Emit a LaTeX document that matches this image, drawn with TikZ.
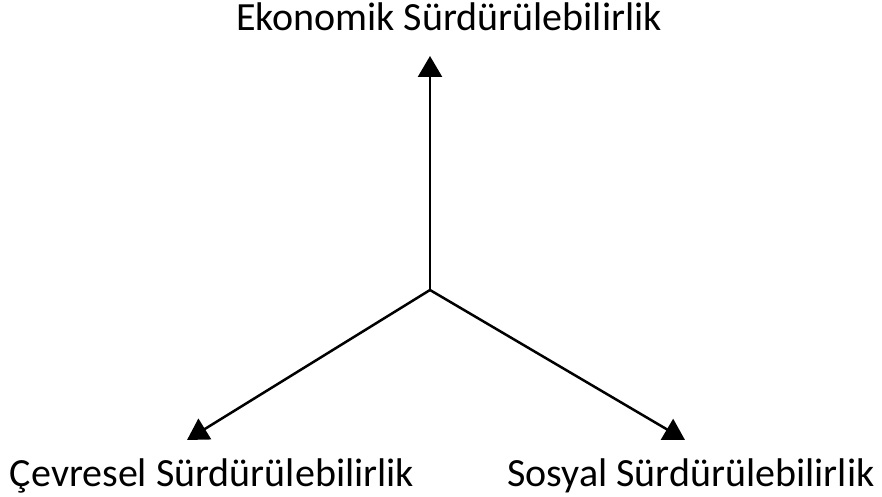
\documentclass[tikz,border=0pt]{standalone}
\usepackage{fontspec}
\setmainfont{Carlito}
\usetikzlibrary{arrows.meta}
\begin{document}
\begin{tikzpicture}[x=1pt,y=-1pt,
  lbl/.style={font=\fontsize{40}{46}\selectfont, inner sep=0pt, anchor=base},
  arr/.style={line width=2.5pt, -{Triangle[length=21pt,width=24pt]}}]
\useasboundingbox (0,0) rectangle (882,497);
\coordinate (c) at (430,290);
\coordinate (t) at (430,56);
\coordinate (l) at (187,440);
\coordinate (r) at (685,440);
\draw[arr] (c) -- (t);
\draw[arr] (c) -- (l);
\draw[arr] (c) -- (r);
\node[lbl] (te) at (449,30.5) {Ekonomik Sürdürülebilirlik};
\node[lbl] (le) at (212,486) {Çevresel Sürdürülebilirlik};
\node[lbl] (re) at (691,486) {Sosyal Sürdürülebilirlik};
\end{tikzpicture}
\end{document}
